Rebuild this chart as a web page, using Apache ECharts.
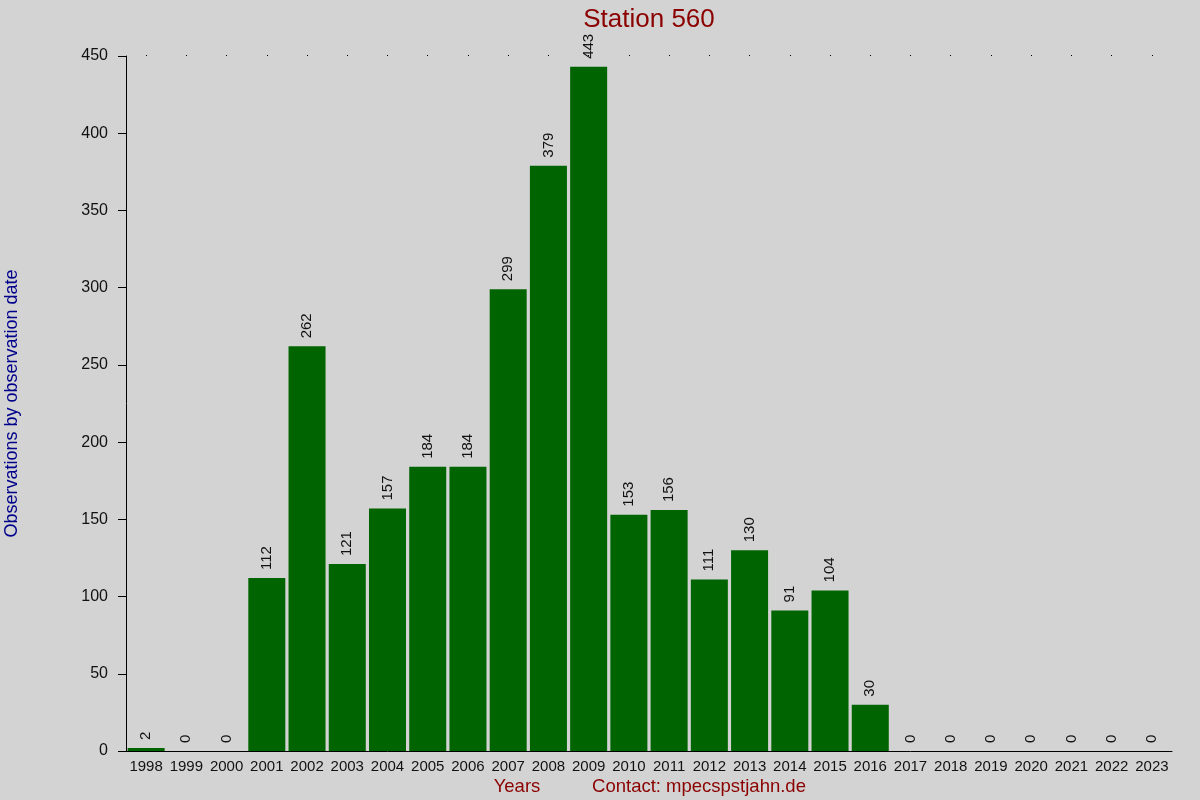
<!DOCTYPE html>
<html>
<head>
    <title>Station 560</title>
    <script src="https://cdn.jsdelivr.net/npm/echarts/dist/echarts.min.js"></script>
    <style>
        html, body { margin: 0; padding: 0; background: #d3d3d3; }
    </style>
</head>
<body>
    <div id="chart" style="width: 1200px; height: 800px;"></div>
    <script type="text/javascript">
        // Observations per year
        const years = ['1998', '1999', '2000', '2001', '2002', '2003', '2004', '2005', '2006',
            '2007', '2008', '2009', '2010', '2011', '2012', '2013', '2014', '2015', '2016',
            '2017', '2018', '2019', '2020', '2021', '2022', '2023'];
        const observations = [2, 0, 0, 112, 262, 121, 157, 184, 184, 299, 379, 443, 153, 156,
            111, 130, 91, 104, 30, 0, 0, 0, 0, 0, 0, 0];
        const yTicks = { min: 0, max: 450, interval: 50 };

        const font = 'Liberation Sans, Arial, sans-serif';
        let myChart = echarts.init(document.getElementById('chart'));
        let option = {
            backgroundColor: '#d3d3d3',
            animation: false,
            textStyle: { fontFamily: font },
            title: [{
                text: 'Station 560',
                left: 644, top: -8, textAlign: 'center',
                textStyle: { color: '#8b0000', fontSize: 26, fontWeight: 'normal', fontFamily: font }
            }, {
                text: 'Years',
                left: 512, top: 766, textAlign: 'center',
                textStyle: { color: '#8b0000', fontSize: 18.5, fontWeight: 'normal', fontFamily: font }
            }, {
                text: 'Contact: mpecspstjahn.de',
                left: 694, top: 766, textAlign: 'center',
                textStyle: { color: '#8b0000', fontSize: 18.5, fontWeight: 'normal', fontFamily: font }
            }],
            grid: { left: 126, right: 28, top: 56, bottom: 49, containLabel: false, outerBoundsMode: 'none' },
            xAxis: [{
                type: 'category',
                data: years,
                axisLine: { lineStyle: { color: '#000', width: 1 } },
                axisTick: { show: false },
                axisLabel: { color: '#111', fontSize: 15, margin: 3, interval: 0 }
            }, {
                type: 'category',
                data: years,
                position: 'top',
                axisLine: { show: false },
                axisTick: { show: true, alignWithLabel: true, length: 1, lineStyle: { color: '#000' } },
                axisLabel: { show: false }
            }],
            yAxis: {
                type: 'value',
                min: yTicks.min, max: yTicks.max, interval: yTicks.interval,
                name: 'Observations by observation date',
                nameLocation: 'middle',
                nameGap: 98,
                nameTextStyle: { color: '#00008b', fontSize: 18 },
                axisLine: { show: true, lineStyle: { color: '#000', width: 1 } },
                axisTick: { show: true, length: 8, lineStyle: { color: '#000' } },
                axisLabel: { color: '#111', fontSize: 16, margin: 18 },
                splitLine: { show: false }
            },
            series: [{
                type: 'bar',
                data: observations,
                barCategoryGap: '8%',
                itemStyle: { color: '#006400' },
                label: {
                    show: true,
                    position: 'top',
                    rotate: 90,
                    align: 'left',
                    verticalAlign: 'middle',
                    distance: 8,
                    color: '#111',
                    fontSize: 15
                }
            }]
        };
        myChart.setOption(option);
    </script>
</body>
</html>
